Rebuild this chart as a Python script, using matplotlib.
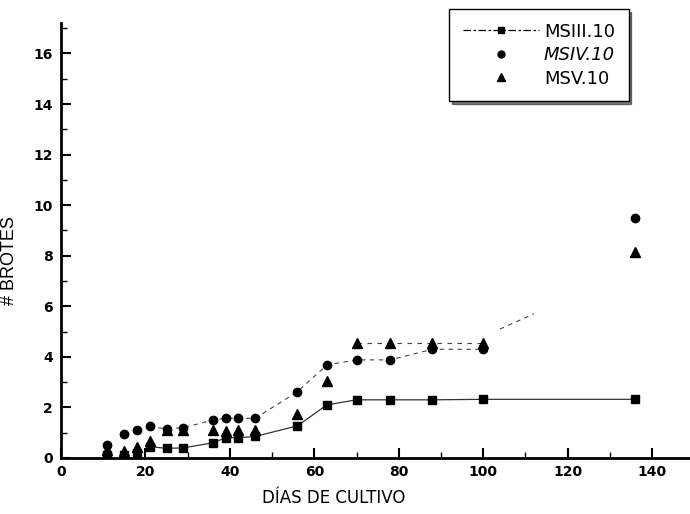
import matplotlib
matplotlib.use("Agg")
import matplotlib.pyplot as plt
from matplotlib.ticker import MultipleLocator

# Días de cultivo y número de brotes por medio
dias = [11, 15, 18, 21, 25, 29, 36, 39, 42, 46, 56, 63, 70, 78, 88, 100, 136]
msiii = [0.1, 0.1, 0.2, 0.45, 0.38, 0.4, 0.6, 0.8, 0.8, 0.85, 1.27, 2.1, 2.3, 2.3, 2.3, 2.32, 2.32]
msiv = [0.52, 0.93, 1.1, 1.25, 1.15, 1.2, 1.5, 1.57, 1.57, 1.57, 2.62, 3.68, 3.88, 3.88, 4.3, 4.3, 9.5]
msv = [0.3, 0.28, 0.45, 0.68, 1.1, 1.1, 1.1, 1.05, 1.1, 1.1, 1.74, 3.06, 4.56, 4.56, 4.56, 4.56, 8.15]

# tramo suelto de la curva de MSIV.10 despues de 100 dias
ext_dias = [104, 112]
ext_brotes = [5.1, 5.7]

fig = plt.figure(figsize=(6.9, 5.14), dpi=100)
ax = fig.add_axes([0.0884, 0.109, 0.9116, 0.846])

# lineas de tendencia
ax.plot(dias[3:], msiii[3:], color="#333333", lw=0.9, ls="-")
ax.plot(dias[3:16], msiv[3:16], color="#444444", lw=0.8, ls=(0, (4, 4)))
ax.plot(ext_dias, ext_brotes, color="#444444", lw=0.8, ls=(0, (4, 4)))
ax.plot(dias[12:16], msv[12:16], color="#444444", lw=0.8, ls=(0, (4, 5)))

# puntos
ax.plot(dias, msiii, "s", color="black", ms=6)
ax.plot(dias, msiv, "o", color="black", ms=6)
ax.plot(dias, msv, "^", color="black", ms=7)

h1, = ax.plot([], [], marker="s", color="black", ms=5, lw=0.9, ls=(0, (6, 2, 2, 2)))
h2, = ax.plot([], [], "o", color="black", ms=5)
h3, = ax.plot([], [], "^", color="black", ms=6)

leg = fig.legend([h1, h2, h3], ["MSIII.10", "MSIV.10", "MSV.10"],
                 loc="upper left", bbox_to_anchor=(0.651, 0.982),
                 frameon=True, fancybox=False, shadow={"color": "black"},
                 edgecolor="black", fontsize=13, handlelength=4.2,
                 handletextpad=0.3, borderpad=0.75, labelspacing=0.3,
                 borderaxespad=0)
leg.get_frame().set_linewidth(1.0)
for t, st in zip(leg.get_texts(), ["normal", "italic", "normal"]):
    t.set_fontstyle(st)

ax.set_xlim(0, 149)
ax.set_ylim(0, 17.2)
ax.xaxis.set_major_locator(MultipleLocator(20))
ax.xaxis.set_minor_locator(MultipleLocator(10))
ax.yaxis.set_major_locator(MultipleLocator(2))
ax.yaxis.set_minor_locator(MultipleLocator(1))
ax.tick_params(direction="in", which="major", length=7, width=1.5, labelsize=10)
ax.tick_params(direction="in", which="minor", length=4, width=1.0)
ax.tick_params(axis="y", pad=6)
ax.tick_params(axis="x", pad=5)
for lab in ax.get_xticklabels() + ax.get_yticklabels():
    lab.set_fontweight("bold")

for s in ["top", "right"]:
    ax.spines[s].set_visible(False)
for s in ["left", "bottom"]:
    ax.spines[s].set_linewidth(2)

ax.set_xlabel("DÍAS DE CULTIVO", fontsize=12)
ax.set_ylabel("# BROTES", fontsize=13, family="Liberation Sans")
ax.xaxis.set_label_coords(0.434, -0.072)
ax.yaxis.set_label_coords(-0.068, 0.455)

fig.savefig("out.png", dpi=100)
